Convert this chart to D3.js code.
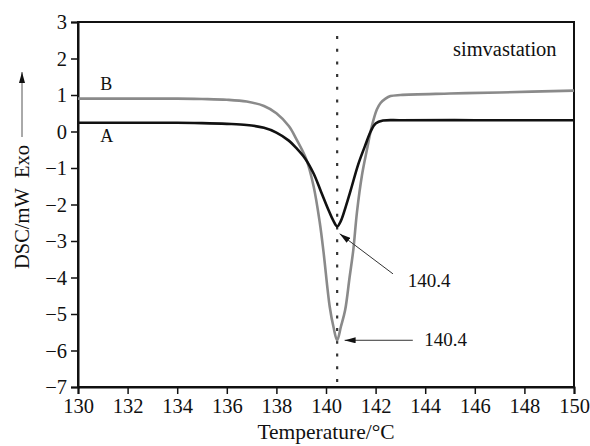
<!DOCTYPE html>
<html>
<head>
<meta charset="utf-8">
<script src="https://cdn.jsdelivr.net/npm/d3@7"></script>
<style>
  body { margin: 0; background: #fff; }
  text { font-family: "Liberation Serif", "Times New Roman", serif; fill: #111; }
</style>
</head>
<body>
<div id="chart"></div>
<script>
// data
const tempA = [130, 132, 134, 135, 136, 136.8, 137.5, 138.0, 138.5, 138.8, 139.15, 139.5, 139.8, 140.1, 140.3, 140.45, 140.6, 140.8, 141.0, 141.3, 141.57, 141.8, 142.0, 142.3, 143, 146, 150];
const dscA  = [0.24, 0.24, 0.24, 0.23, 0.21, 0.18, 0.1, -0.03, -0.25, -0.45, -0.73, -1.15, -1.65, -2.15, -2.45, -2.6, -2.45, -2.05, -1.6, -0.9, -0.4, 0.0, 0.22, 0.3, 0.31, 0.31, 0.31];

const tempB = [130, 132, 134, 135, 136, 136.8, 137.5, 138.0, 138.5, 138.8, 139.2, 139.5, 139.75, 139.9, 140.15, 140.3, 140.45, 140.6, 140.77, 140.95, 141.1, 141.25, 141.45, 141.65, 141.85, 142.05, 142.2, 142.4, 142.6, 143, 145, 147, 150];
const dscB  = [0.9, 0.9, 0.9, 0.89, 0.87, 0.82, 0.7, 0.5, 0.15, -0.2, -0.75, -1.5, -2.5, -3.3, -4.8, -5.35, -5.72, -5.35, -4.9, -4.0, -3.25, -2.2, -1.2, -0.5, 0.15, 0.6, 0.78, 0.9, 0.97, 1.0, 1.04, 1.07, 1.12];

const xTicks = [130, 132, 134, 136, 138, 140, 142, 144, 146, 148, 150];
const yTicks = [3, 2, 1, 0, -1, -2, -3, -4, -5, -6, -7];
const peakTemp = 140.45;
const peakLabel = "140.4";

const margin = { top: 22, right: 16, bottom: 59, left: 78 };
const width = 590 - margin.left - margin.right;
const height = 446 - margin.top - margin.bottom;

const svgRoot = d3.select("#chart").append("svg")
    .attr("width", 590)
    .attr("height", 446);

const defs = svgRoot.append("defs");
defs.append("marker")
    .attr("id", "arrow")
    .attr("viewBox", "0 0 11 6")
    .attr("refX", 11).attr("refY", 3)
    .attr("markerWidth", 11).attr("markerHeight", 6)
    .attr("markerUnits", "userSpaceOnUse")
    .attr("orient", "auto")
    .append("path")
    .attr("d", "M0,0 L11,3 L0,6 Z")
    .attr("fill", "#111");

const svg = svgRoot.append("g")
    .attr("transform", `translate(${margin.left},${margin.top})`);

const x = d3.scaleLinear().domain([130, 150]).range([0, width]);
const y = d3.scaleLinear().domain([-7, 3]).range([height, 0]);

// frame
svg.append("rect")
    .attr("width", width).attr("height", height)
    .attr("fill", "none").attr("stroke", "#111").attr("stroke-width", 2);

// axes
const xAxis = svg.append("g")
    .attr("transform", `translate(0,${height})`)
    .call(d3.axisBottom(x).tickValues(xTicks).tickSize(7).tickPadding(4).tickFormat(d3.format("d")));
const yAxis = svg.append("g")
    .call(d3.axisLeft(y).tickValues(yTicks).tickSize(7).tickPadding(4)
        .tickFormat(d => d < 0 ? "\u2212" + Math.abs(d) : d));

[xAxis, yAxis].forEach(a => {
    a.select(".domain").attr("stroke", "#111").attr("stroke-width", 2);
    a.selectAll(".tick line").attr("stroke", "#111").attr("stroke-width", 1.5);
    a.selectAll(".tick text").style("font-size", "20.5px")
        .style("font-family", "'Liberation Serif', serif").attr("fill", "#111");
});

// dotted peak line
svg.append("line")
    .attr("x1", x(peakTemp)).attr("x2", x(peakTemp))
    .attr("y1", 14).attr("y2", height)
    .attr("stroke", "#333").attr("stroke-width", 2.2)
    .attr("stroke-dasharray", "3,9.7");

const line = d3.line()
    .x(d => x(d[0]))
    .y(d => y(d[1]))
    .curve(d3.curveCatmullRom.alpha(0.5));

svg.append("path")
    .datum(d3.zip(tempB, dscB))
    .attr("d", line)
    .attr("fill", "none").attr("stroke", "#8a8a8a").attr("stroke-width", 2.6);

svg.append("path")
    .datum(d3.zip(tempA, dscA))
    .attr("d", line)
    .attr("fill", "none").attr("stroke", "#111").attr("stroke-width", 2.6);

// curve labels
svg.append("text").attr("x", x(130.9)).attr("y", y(1.13)).text("B").style("font-size", "18px");
svg.append("text").attr("x", x(130.9)).attr("y", y(-0.3)).text("A").style("font-size", "18px");
svg.append("text").attr("x", x(149.3)).attr("y", y(2.07)).attr("text-anchor", "end")
    .text("simvastation").style("font-size", "20.5px");

// peak annotations
const minB = d3.min(dscB);
svg.append("line")
    .attr("x1", x(142.7)).attr("y1", y(-3.9))
    .attr("x2", x(140.55)).attr("y2", y(-2.8))
    .attr("stroke", "#333").attr("stroke-width", 1)
    .attr("marker-end", "url(#arrow)");
svg.append("text").attr("x", x(143.3)).attr("y", y(-4.25)).text(peakLabel).style("font-size", "19px");

svg.append("line")
    .attr("x1", x(143.5)).attr("y1", y(minB))
    .attr("x2", x(140.75)).attr("y2", y(minB))
    .attr("stroke", "#333").attr("stroke-width", 1)
    .attr("marker-end", "url(#arrow)");
svg.append("text").attr("x", x(143.96)).attr("y", y(minB) + 6).text(peakLabel).style("font-size", "19px");

// axis titles
svg.append("text")
    .attr("x", x(140)).attr("y", height + 52)
    .attr("text-anchor", "middle")
    .style("font-size", "21.5px")
    .text("Temperature/\u00B0C");

const yTitle = svgRoot.append("g").attr("transform", "translate(29,207) rotate(-90)");
yTitle.append("text")
    .attr("text-anchor", "middle")
    .style("font-size", "20.5px")
    .text("DSC/mW\u2002Exo");
yTitle.append("line")
    .attr("x1", 70).attr("x2", 135)
    .attr("y1", -7).attr("y2", -7)
    .attr("stroke", "#555").attr("stroke-width", 1)
    .attr("marker-end", "url(#arrow)");
</script>
</body>
</html>
